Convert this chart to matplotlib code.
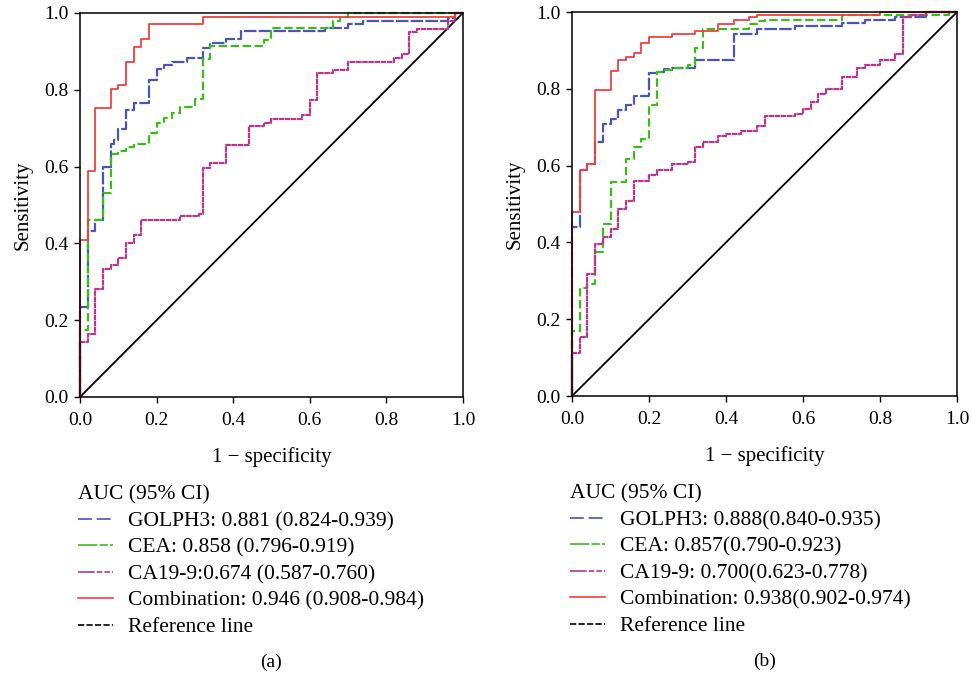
import matplotlib
matplotlib.use('Agg')
import matplotlib.pyplot as plt
from matplotlib.lines import Line2D

plt.rcParams['font.family'] = ['Liberation Serif', 'DejaVu Serif']
plt.rcParams['lines.scale_dashes'] = False

# ---- panel (a) ----
a_golph3_fpr = [0, 0, 0.02, 0.04, 0.06, 0.08, 0.088, 0.10, 0.12, 0.14, 0.18, 0.20, 0.22, 0.24,
                0.28, 0.32, 0.34, 0.38, 0.42, 0.64, 0.70, 0.74, 0.96, 0.98, 1.0]
a_golph3_tpr = [0, 0.234, 0.431, 0.46, 0.6, 0.659, 0.668, 0.697, 0.747, 0.765, 0.826, 0.853, 0.865, 0.873,
                0.882, 0.91, 0.923, 0.931, 0.953, 0.961, 0.97, 0.979, 0.988, 1.0, 1.0]
a_cea_fpr = [0, 0, 0.02, 0.06, 0.08, 0.10, 0.12, 0.14, 0.18, 0.20, 0.22, 0.24, 0.26, 0.30,
             0.32, 0.34, 0.48, 0.50, 0.66, 0.68, 0.70, 1.0]
a_cea_tpr = [0, 0.174, 0.46, 0.53, 0.632, 0.64, 0.652, 0.66, 0.687, 0.714, 0.726, 0.74, 0.754, 0.775,
             0.88, 0.915, 0.93, 0.96, 0.98, 0.99, 1.0, 1.0]
a_ca199_fpr = [0, 0, 0.02, 0.04, 0.06, 0.08, 0.10, 0.12, 0.14, 0.16, 0.26, 0.31, 0.32, 0.34, 0.38,
               0.44, 0.48, 0.50, 0.58, 0.60, 0.62, 0.66, 0.70, 0.82, 0.84, 0.86, 0.88, 0.96, 0.98, 1.0]
a_ca199_tpr = [0, 0.143, 0.165, 0.282, 0.332, 0.343, 0.362, 0.401, 0.421, 0.46, 0.47, 0.477, 0.596, 0.608, 0.655,
               0.705, 0.714, 0.725, 0.733, 0.773, 0.844, 0.852, 0.872, 0.883, 0.892, 0.95, 0.959, 0.979, 1.0, 1.0]
a_comb_fpr = [0, 0, 0.02, 0.04, 0.08, 0.10, 0.12, 0.14, 0.16, 0.18, 0.32, 0.98, 1.0]
a_comb_tpr = [0, 0.41, 0.588, 0.753, 0.803, 0.813, 0.872, 0.911, 0.931, 0.97, 0.99, 1.0, 1.0]
a_labels = ['GOLPH3: 0.881 (0.824-0.939)', 'CEA: 0.858 (0.796-0.919)',
            'CA19-9:0.674 (0.587-0.760)', 'Combination: 0.946 (0.908-0.984)', 'Reference line']

# ---- panel (b) ----
b_golph3_fpr = [0, 0, 0.02, 0.04, 0.06, 0.08, 0.10, 0.12, 0.14, 0.16, 0.20, 0.22, 0.24, 0.26,
                0.32, 0.42, 0.48, 0.58, 0.70, 0.76, 0.84, 0.92, 1.0]
b_golph3_tpr = [0, 0.44, 0.588, 0.605, 0.662, 0.708, 0.722, 0.744, 0.759, 0.78, 0.84, 0.844, 0.851, 0.854,
                0.876, 0.943, 0.956, 0.964, 0.971, 0.978, 0.988, 1.0, 1.0]
b_cea_fpr = [0, 0, 0.02, 0.04, 0.06, 0.08, 0.10, 0.14, 0.16, 0.18, 0.20, 0.22, 0.24, 0.26,
             0.30, 0.32, 0.34, 0.46, 0.48, 0.50, 0.70, 0.98, 1.0]
b_cea_tpr = [0, 0.17, 0.28, 0.293, 0.375, 0.449, 0.558, 0.618, 0.649, 0.67, 0.757, 0.844, 0.85, 0.855,
             0.862, 0.905, 0.957, 0.968, 0.977, 0.98, 0.991, 1.0, 1.0]
b_ca199_fpr = [0, 0, 0.02, 0.04, 0.06, 0.08, 0.10, 0.12, 0.14, 0.16, 0.20, 0.22, 0.26, 0.30, 0.32,
               0.34, 0.38, 0.40, 0.44, 0.48, 0.50, 0.58, 0.60, 0.62, 0.64, 0.66, 0.70, 0.74, 0.76,
               0.80, 0.84, 0.86, 0.88, 0.92, 1.0]
b_ca199_tpr = [0, 0.111, 0.154, 0.317, 0.395, 0.413, 0.435, 0.486, 0.508, 0.559, 0.575, 0.588, 0.604, 0.61, 0.649,
               0.662, 0.676, 0.683, 0.69, 0.702, 0.728, 0.735, 0.748, 0.766, 0.786, 0.80, 0.831, 0.853, 0.861,
               0.874, 0.89, 0.987, 0.991, 1.0, 1.0]
b_comb_fpr = [0, 0, 0.02, 0.04, 0.06, 0.10, 0.12, 0.14, 0.16, 0.18, 0.20, 0.26, 0.32, 0.38, 0.42, 0.46, 0.48, 0.80, 1.0]
b_comb_tpr = [0, 0.478, 0.588, 0.605, 0.796, 0.846, 0.876, 0.883, 0.892, 0.919, 0.935, 0.943, 0.95, 0.97,
              0.978, 0.987, 0.993, 1.0, 1.0]
b_labels = ['GOLPH3: 0.888(0.840-0.935)', 'CEA: 0.857(0.790-0.923)',
            'CA19-9: 0.700(0.623-0.778)', 'Combination: 0.938(0.902-0.974)', 'Reference line']

ticks = [0.0, 0.2, 0.4, 0.6, 0.8, 1.0]
tick_labels = ['0.0', '0.2', '0.4', '0.6', '0.8', '1.0']

colors = ['#4a55b5', '#3dbb1c', '#b5388a', '#f04040', 'black']
curve_dash = [(0, (9, 1.6)), (0, (6, 2.6)), (0, (4, 0.4)), '-']
curve_lw = [1.6, 1.6, 1.6, 1.3]
legend_dash = [(0, (10, 3.5)), (0, (14, 1.5, 6, 1.5)), (0, (12, 1.5, 4, 1.5, 4, 1.5)), '-', (0, (4.5, 1.6))]


def draw_panel(ax, curves, labels, tag):
    ax.plot([0, 1], [0, 1], color='black', lw=1.3)
    for (fpr, tpr), col, ls, lw in zip(curves, colors, curve_dash, curve_lw):
        ax.plot(fpr, tpr, drawstyle='steps-post', color=col, ls=ls, lw=lw, clip_on=False)
    ax.set_xlim(0, 1)
    ax.set_ylim(0, 1)
    ax.set_xticks(ticks)
    ax.set_xticklabels(tick_labels)
    ax.set_yticks(ticks)
    ax.set_yticklabels(tick_labels)
    ax.tick_params(direction='out', length=4.5, width=1, labelsize=14, pad=4)
    ax.tick_params(axis='x', pad=6)
    for sp in ax.spines.values():
        sp.set_linewidth(1.1)
    ax.set_xlabel('1 \u2212 specificity', fontsize=15, labelpad=13)
    ax.set_ylabel('Sensitivity', fontsize=15, labelpad=8)

    handles = [Line2D([], [], color=c, ls=d, lw=1.2) for c, d in zip(colors, legend_dash)]
    ax.legend(handles, labels, title='AUC (95% CI)', loc='upper left',
              bbox_to_anchor=(-0.005, -0.23), frameon=False, fontsize=15.5,
              title_fontsize=15.5, alignment='left', borderpad=0, borderaxespad=0,
              handlelength=1.6, handletextpad=0.7, labelspacing=0.3)
    ax.text(0.5, -0.69, tag, transform=ax.transAxes, ha='center', va='center', fontsize=14)


fig = plt.figure(figsize=(9.71, 6.78), dpi=100)
ax_a = fig.add_axes([0.0824, 0.4145, 0.3944, 0.5664])
ax_b = fig.add_axes([0.5891, 0.4159, 0.3965, 0.5664])

draw_panel(ax_a, [(a_golph3_fpr, a_golph3_tpr), (a_cea_fpr, a_cea_tpr),
                  (a_ca199_fpr, a_ca199_tpr), (a_comb_fpr, a_comb_tpr)], a_labels, '(a)')
draw_panel(ax_b, [(b_golph3_fpr, b_golph3_tpr), (b_cea_fpr, b_cea_tpr),
                  (b_ca199_fpr, b_ca199_tpr), (b_comb_fpr, b_comb_tpr)], b_labels, '(b)')

fig.savefig('out.png', dpi=100)
